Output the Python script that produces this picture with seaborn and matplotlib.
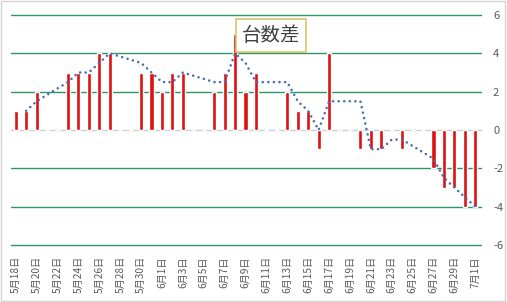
import numpy as np
import pandas as pd
import matplotlib
matplotlib.use("Agg")
import matplotlib.pyplot as plt
from matplotlib.patches import Rectangle
import seaborn as sns

# ---- data ----
dates = [f"5月{d}日" for d in range(18, 32)] + [f"6月{d}日" for d in range(1, 31)] + ["7月1日"]
diff = [1, 1, 2, 0, 0, 3, 3, 3, 4, 4, 0, 0, 3, 3,
        2, 3, 3, 0, 0, 2, 3, 5, 2, 3, 0, 0, 2, 1, 1, -1,
        4, 0, 0, -1, -1, -1, 0, -1, 0, 0, -2, -3, -3, -4, -4]
trend = [None, 1, 1.5, None, None, 2.5, 3, 3, 3.5, 4, None, None, 3.5, 3,
         2.5, 2.5, 3, None, None, 2.5, 2.5, 4, 3.5, 2.5, None, None, 2.5, 1.5, 1, 0,
         1.5, None, None, 1.5, -1, -1, -0.5, -0.5, None, None, -1.5, -2.5, -3, -3.5, -4]
yticks = [-6, -4, -2, 0, 2, 4, 6]
title = "台数差"

sns.set_theme(style="white")
plt.rcParams["font.family"] = ["Noto Sans CJK JP", "DejaVu Sans"]

df = pd.DataFrame({"date": dates, "diff": diff, "trend": trend})
df["pos"] = np.arange(len(df))

fig = plt.figure(figsize=(5.07, 3.02), dpi=100)
ax = fig.add_axes([10.5 / 507, 1 - 245 / 302, 470 / 507, 230 / 302])

sns.barplot(data=df, x="date", y="diff", order=dates, color="#dd1111",
            saturation=1, width=0.4, ax=ax, zorder=3)

tdf = df.dropna(subset=["trend"])
sns.lineplot(data=tdf, x="pos", y="trend", ax=ax, color="#4a6fb5",
             linewidth=1.9, linestyle=(0, (0.01, 2.1)), dash_capstyle="round",
             zorder=4, sort=True)

ax.set_xlim(-0.5, len(dates) - 0.5)
ax.set_ylim(-6, 6)
ax.set_xlabel("")
ax.set_ylabel("")

# y axis on the right
ax.yaxis.tick_right()
ax.set_yticks(yticks)
ax.set_yticklabels([str(v) for v in yticks])
ax.tick_params(axis="y", length=0, pad=9, labelsize=8, labelcolor="#595959")
ax.yaxis.grid(True, color="#2f9466", linewidth=1.0, zorder=0)
for gl, v in zip(ax.get_ygridlines(), yticks):
    gl.set_clip_on(False)
    if v == 0:
        gl.set_visible(False)

for s in ["top", "right", "left"]:
    ax.spines[s].set_visible(False)
ax.spines["bottom"].set_position(("data", 0))
ax.spines["bottom"].set_color("#d0d0d0")
ax.spines["bottom"].set_linewidth(1.0)
ax.spines["bottom"].set_zorder(2.5)

# tick marks on the zero line at category boundaries
ax.set_xticks(np.arange(-0.5, len(dates), 2))
ax.set_xticklabels([])
ax.tick_params(axis="x", length=3, width=0.8, color="#d0d0d0", direction="out")

# date labels at bottom
sec = ax.secondary_xaxis(0)
pos_lab = list(range(0, len(dates), 2))
sec.set_xticks(pos_lab, labels=[dates[i] for i in pos_lab], rotation=90)
sec.tick_params(length=0, pad=8, labelsize=7.3, labelcolor="#595959")
sec.spines["bottom"].set_visible(False)

ax.text(0.555, 0.912, title, transform=ax.transAxes, ha="center", va="center",
        fontsize=14, color="#404040", zorder=6,
        bbox=dict(boxstyle="square,pad=0.3", fc="white", ec="#d8c76a", lw=1.2))

fig.patches.append(Rectangle((0.002, 0.002), 0.995, 0.995, transform=fig.transFigure,
                             fill=False, edgecolor="#d4d4d4", linewidth=1.0))

fig.savefig("out.png", dpi=100)
